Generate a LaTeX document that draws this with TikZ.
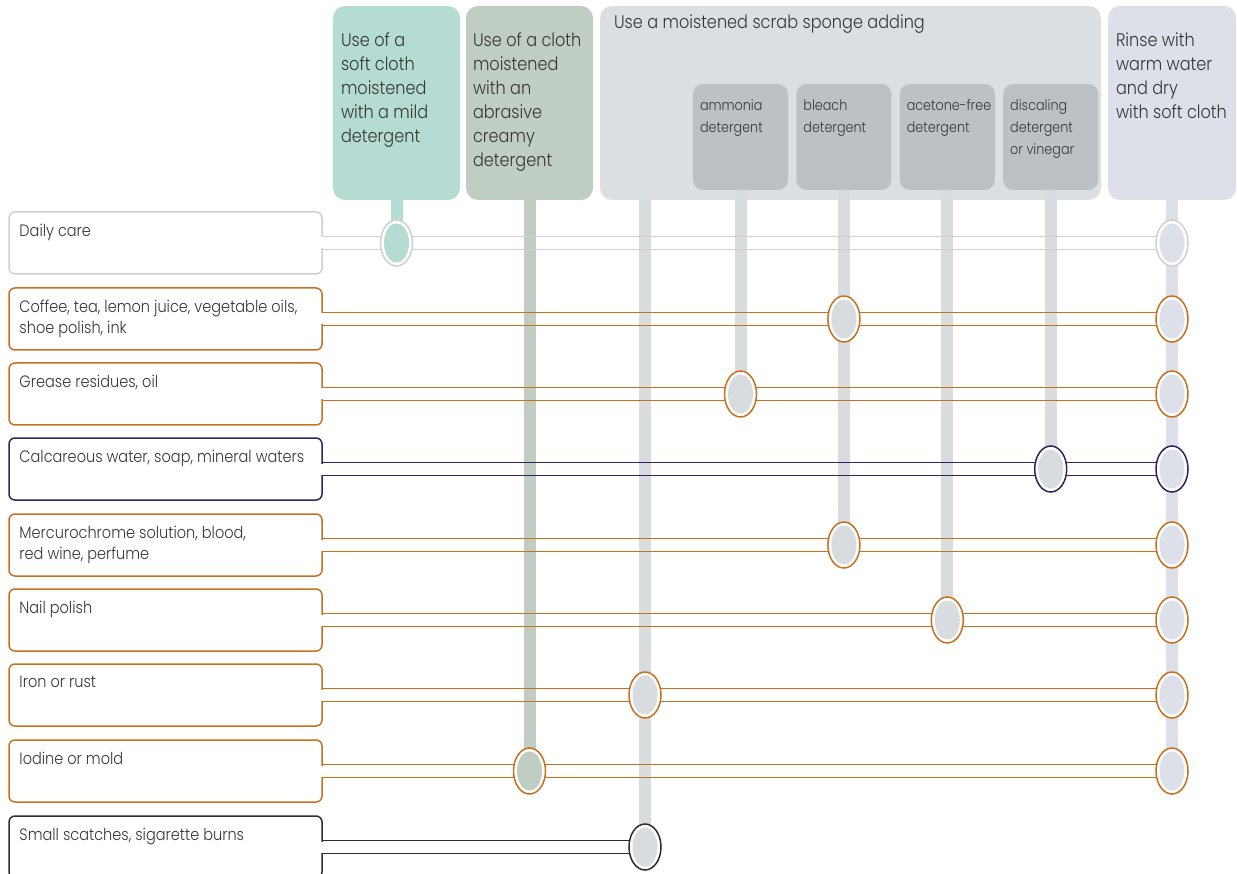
\documentclass[tikz,border=0pt]{standalone}
\usepackage{fontspec}
\setmainfont{Poppins Light}[FakeStretch=0.88]
\usetikzlibrary{shapes.geometric,positioning}
\definecolor{soft-green}{RGB}{181,220,210}
\definecolor{sage-green}{RGB}{192,205,194}
\definecolor{sponge-grey}{RGB}{220,223,226}
\definecolor{agent-grey}{RGB}{188,194,196}
\definecolor{bar-grey}{RGB}{216,220,223}
\definecolor{rinse-grey}{RGB}{221,224,233}
\definecolor{row-grey}{RGB}{208,208,208}
\definecolor{rust}{RGB}{200,112,30}
\definecolor{navy}{RGB}{43,37,99}
\definecolor{ink}{RGB}{45,45,45}
\definecolor{label}{RGB}{55,55,55}

\begin{document}
\begin{tikzpicture}[
    x=1pt, y=-1pt,
    head/.style={rectangle, rounded corners=12pt, minimum height=194pt, inner sep=0pt},
    agent/.style={rectangle, rounded corners=10pt, fill=agent-grey, minimum width=95pt, minimum height=106pt, inner sep=0pt},
    headtext/.style={anchor=north west, inner sep=0pt, align=left, text=label, font=\fontsize{18.3}{24}\selectfont},
    agenttext/.style={anchor=north west, inner sep=0pt, align=left, text=label, font=\fontsize{14.5}{22}\selectfont},
    rowbox/.style={rectangle, rounded corners=6pt, line width=1.5pt, minimum width=313pt, minimum height=62pt, inner sep=0pt},
    rowtext/.style={anchor=north west, inner sep=0pt, align=left, text=label, font=\fontsize{16.5}{21}\selectfont},
    bar/.style={line width=12pt, draw=#1},
    rail/.style={line width=1.7pt, draw=#1},
    ring/.style={ellipse, line width=1.5pt, fill=white, minimum width=32pt, minimum height=46pt, inner sep=0pt}
]
\useasboundingbox (0,0) rectangle (1237,874);

% Steps
\node[head, fill=soft-green, minimum width=127pt] (soft) at (396.5,103) {};
\node[headtext] at ([xshift=8pt,yshift=-27pt]soft.north west) {Use of a\\soft cloth\\moistened\\with a mild\\detergent};
\node[head, fill=sage-green, minimum width=127pt] (abrasive) at (529.5,103) {};
\node[headtext] at ([xshift=7pt,yshift=-27pt]abrasive.north west) {Use of a cloth\\moistened\\with an\\abrasive\\creamy\\detergent};
\node[head, fill=sponge-grey, minimum width=501pt] (sponge) at (850.5,103) {};
\node[headtext] at ([xshift=14pt,yshift=-9pt]sponge.north west) {Use a moistened scrab sponge adding};
\coordinate (sponge-foot) at (645,200);
\node[head, fill=rinse-grey, minimum width=128pt] (rinse) at (1172,103) {};
\node[headtext] at ([xshift=8pt,yshift=-27pt]rinse.north west) {Rinse with\\warm water\\and dry\\with soft cloth};

% Agents
\node[agent] (ammonia) at (740.5,137) {};
\node[agent, right=8pt of ammonia] (bleach) {};
\node[agent, right=8pt of bleach] (acetone) {};
\node[agent, right=8pt of acetone] (discaling) {};
\node[agenttext] at ([xshift=7pt,yshift=-16pt]ammonia.north west) {ammonia\\detergent};
\node[agenttext] at ([xshift=7pt,yshift=-16pt]bleach.north west) {bleach\\detergent};
\node[agenttext] at ([xshift=7pt,yshift=-16pt]acetone.north west) {acetone-free\\detergent};
\node[agenttext] at ([xshift=7pt,yshift=-16pt]discaling.north west) {discaling\\detergent\\or vinegar};

% Stains
\foreach \n/\y/\c/\t in {
    daily/243/row-grey/{Daily care},
    coffee/319/rust/{Coffee, tea, lemon juice, vegetable oils,\\shoe polish, ink},
    grease/394/rust/{Grease residues, oil},
    calc/469/navy/{Calcareous water, soap, mineral waters},
    mercuro/545/rust/{Mercurochrome solution, blood,\\red wine, perfume},
    nail/620/rust/{Nail polish},
    iron/695/rust/{Iron or rust},
    iodine/771/rust/{Iodine or mold},
    scratch/847/ink/{Small scatches, sigarette burns}} {
  \node[rowbox, draw=\c] (\n) at (165.5,\y) {};
  \node[rowtext] (\n-text) at ([xshift=11pt,yshift=-13pt]\n.north west) {\t};
}

% Where stains meet steps
\foreach \n/\s in {daily/soft, coffee/bleach, grease/ammonia, calc/discaling,
    mercuro/bleach, nail/acetone, iron/sponge-foot, iodine/abrasive, scratch/sponge-foot}
  \coordinate (\n-dot) at (\s.south |- \n.east);
\foreach \n in {daily,coffee,grease,calc,mercuro,nail,iron,iodine}
  \coordinate (\n-end) at (rinse.south |- \n.east);
\coordinate (scratch-end) at (scratch-dot);

% Bars
\draw[bar=soft-green] (soft.south) -- (daily-dot);
\draw[bar=sage-green] (abrasive.south) -- (iodine-dot);
\draw[bar=bar-grey] (sponge-foot) -- (scratch-dot);
\draw[bar=bar-grey] (ammonia.south) -- (grease-dot);
\draw[bar=bar-grey] (bleach.south) -- (mercuro-dot);
\draw[bar=bar-grey] (acetone.south) -- (nail-dot);
\draw[bar=bar-grey] (discaling.south) -- (calc-dot);
\draw[bar=rinse-grey] (rinse.south) -- (iodine-end);

% Rails
\foreach \n/\c in {daily/row-grey, coffee/rust, grease/rust, calc/navy, mercuro/rust,
    nail/rust, iron/rust, iodine/rust, scratch/ink} {
  \fill[white] ([xshift=-2pt,yshift=-5.5pt]\n.east) rectangle ([xshift=2pt,yshift=5.5pt]\n.east);
  \draw[rail=\c] ([yshift=6.5pt]\n.east) -- ([yshift=6.5pt]\n-end);
  \draw[rail=\c] ([yshift=-6.5pt]\n.east) -- ([yshift=-6.5pt]\n-end);
}

% Stops
\foreach \n/\c/\f in {daily/row-grey/soft-green, coffee/rust/bar-grey, grease/rust/bar-grey,
    calc/navy/bar-grey, mercuro/rust/bar-grey, nail/rust/bar-grey, iron/rust/bar-grey,
    iodine/rust/sage-green, scratch/ink/bar-grey} {
  \node[ring, draw=\c] (\n-stop) at (\n-dot) {};
  \fill[\f] (\n-stop.center) ellipse (12.5pt and 19.5pt);
}
\foreach \n/\c in {daily/row-grey, coffee/rust, grease/rust, calc/navy, mercuro/rust,
    nail/rust, iron/rust, iodine/rust} {
  \node[ring, draw=\c] (\n-rinse) at (\n-end) {};
  \fill[rinse-grey] (\n-rinse.center) ellipse (12.5pt and 19.5pt);
}

\end{tikzpicture}
\end{document}
